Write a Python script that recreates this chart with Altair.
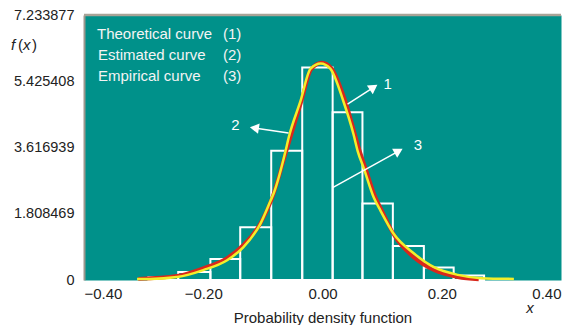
import altair as alt
import pandas as pd

# Histogram (empirical curve)
bin_left = [-0.292, -0.242, -0.188, -0.138, -0.086, -0.034, 0.017, 0.067, 0.118, 0.170, 0.220]
bin_right = [-0.242, -0.188, -0.138, -0.086, -0.034, 0.017, 0.067, 0.118, 0.170, 0.220, 0.271]
bar_height = [0.08, 0.22, 0.57, 1.44, 3.53, 5.80, 4.58, 2.09, 0.93, 0.34, 0.12]

# Estimated curve (yellow)
est_x = [-0.311, -0.289, -0.244, -0.200, -0.160, -0.133, -0.104, -0.087, -0.082, -0.062, -0.057,
         -0.037, -0.020, -0.003, 0.013, 0.035, 0.052, 0.059, 0.069, 0.086, 0.097, 0.119, 0.153,
         0.187, 0.227, 0.266, 0.321]
est_y = [0.03, 0.03, 0.08, 0.27, 0.54, 0.89, 1.54, 2.17, 2.36, 3.52, 3.87,
         4.88, 5.77, 5.91, 5.77, 4.88, 3.98, 3.52, 3.06, 2.25, 1.90, 1.27, 0.73,
         0.35, 0.14, 0.05, 0.03]

# Theoretical curve (red)
theo_x = [-0.309, -0.244, -0.200, -0.160, -0.133, -0.104, -0.086, -0.061, -0.036, -0.019, -0.001,
          0.015, 0.038, 0.062, 0.072, 0.089, 0.100, 0.121, 0.153, 0.187, 0.227, 0.262]
theo_y = [0.03, 0.11, 0.32, 0.60, 0.95, 1.55, 2.17, 3.50, 4.85, 5.75, 5.93,
          5.78, 4.90, 3.55, 3.06, 2.25, 1.88, 1.20, 0.62, 0.27, 0.08, 0.02]

# Arrow annotations
arrow_label = ["1", "2", "3"]
arrow_x0 = [0.042, -0.057, 0.017]
arrow_y0 = [4.80, 4.01, 2.52]
arrow_hx = [0.0857, -0.1143, 0.1277]
arrow_hy = [5.26, 4.15, 3.52]
arrow_angle = [56, 279, 61]
label_x = [0.1025, -0.139, 0.153]
label_y = [5.36, 4.23, 3.68]
label_align = ["left", "right", "left"]

legend_names = ["Theoretical curve", "Estimated curve", "Empirical curve"]
legend_nums = ["(1)", "(2)", "(3)"]

y_ticks = [0, 1.808469, 3.616939, 5.425408, 7.233877]
x_ticks = [-0.4, -0.2, 0.0, 0.2, 0.4]

FONT = "Liberation Sans"
TEAL = "#00918a"

xs = alt.Scale(domain=[-0.4, 0.4], nice=False, zero=False)
ys = alt.Scale(domain=[0, 7.233877], nice=False)

bars_df = pd.DataFrame({"x0": bin_left, "x1": bin_right, "h": bar_height})
est_df = pd.DataFrame({"x": est_x, "y": est_y})
theo_df = pd.DataFrame({"x": theo_x, "y": theo_y})
arr_df = pd.DataFrame({"lab": arrow_label, "x0": arrow_x0, "y0": arrow_y0, "hx": arrow_hx,
                       "hy": arrow_hy, "ang": arrow_angle, "lx": label_x, "ly": label_y,
                       "al": label_align})

x_axis = alt.Axis(values=x_ticks, format=".2f", ticks=False, domain=False, grid=False,
                  labelFont=FONT, labelFontSize=15, labelColor="#222", labelPadding=6,
                  title="Probability density function", titleFont=FONT, titleFontSize=15,
                  titleFontWeight="normal", titleColor="#222", titlePadding=9)
y_axis = alt.Axis(values=y_ticks, labelExpr="datum.value == 0 ? '0' : format(datum.value, '.6f')",
                  ticks=False, grid=False, domainColor="#9c978d", domainWidth=2,
                  labelFont=FONT, labelFontSize=14.5, labelColor="#222", labelPadding=10,
                  title=None)

bars = alt.Chart(bars_df).mark_bar(fill=TEAL, fillOpacity=0, stroke="white", strokeWidth=2).encode(
    x=alt.X("x0:Q", scale=xs, axis=x_axis),
    x2="x1:Q",
    y=alt.Y("h:Q", scale=ys, axis=y_axis),
    y2=alt.datum(0),
)

red = alt.Chart(theo_df).mark_line(color="#d8281c", strokeWidth=3.8, interpolate="monotone").encode(
    x=alt.X("x:Q", scale=xs), y=alt.Y("y:Q", scale=ys))
yellow = alt.Chart(est_df).mark_line(color="#f2ee2a", strokeWidth=2.5, interpolate="monotone").encode(
    x=alt.X("x:Q", scale=xs), y=alt.Y("y:Q", scale=ys))

arrow_lines = alt.Chart(arr_df).mark_rule(color="white", strokeWidth=1.5).encode(
    x=alt.X("x0:Q", scale=xs), y=alt.Y("y0:Q", scale=ys), x2="hx:Q", y2="hy:Q")
arrow_heads = alt.Chart(arr_df).mark_point(shape="triangle-up", filled=True, color="white",
                                           opacity=1, size=110).encode(
    x=alt.X("hx:Q", scale=xs), y=alt.Y("hy:Q", scale=ys),
    angle=alt.Angle("ang:Q", scale=None))
arrow_text_l = alt.Chart(arr_df[arr_df["al"] == "left"]).mark_text(
    align="left", baseline="middle", color="white", font=FONT, fontSize=15).encode(
    x=alt.X("lx:Q", scale=xs), y=alt.Y("ly:Q", scale=ys), text="lab:N")
arrow_text_r = alt.Chart(arr_df[arr_df["al"] == "right"]).mark_text(
    align="right", baseline="middle", color="white", font=FONT, fontSize=15).encode(
    x=alt.X("lx:Q", scale=xs), y=alt.Y("ly:Q", scale=ys), text="lab:N")

legend_layers = []
for i, (nm, nu) in enumerate(zip(legend_names, legend_nums)):
    ypix = 19 + 21 * i
    legend_layers.append(
        alt.Chart(pd.DataFrame({"t": [nm]})).mark_text(
            align="left", baseline="middle", color="#f4f4f4", font=FONT, fontSize=15).encode(
            x=alt.value(13 if i == 0 else 14), y=alt.value(ypix), text="t:N"))
    legend_layers.append(
        alt.Chart(pd.DataFrame({"t": [nu]})).mark_text(
            align="left", baseline="middle", color="#f4f4f4", font=FONT, fontSize=15).encode(
            x=alt.value(139), y=alt.value(ypix), text="t:N"))

top_df = pd.DataFrame({"x0": [-0.4], "x1": [0.4], "y": [7.233877]})
top_line = alt.Chart(top_df).mark_rule(color="#a8a397", strokeWidth=2.5).encode(
    x=alt.X("x0:Q", scale=xs), x2="x1:Q", y=alt.Y("y:Q", scale=ys))

fx_parts = ["f", "(", "x", ")"]
fx_pos = [-73, -66, -61, -52]
fx_style = ["italic", "normal", "italic", "normal"]
fx_layers = []
for t, p, s in zip(fx_parts, fx_pos, fx_style):
    fx_layers.append(
        alt.Chart(pd.DataFrame({"t": [t]})).mark_text(
            align="left", baseline="middle", fontStyle=s, font=FONT, fontSize=15, color="#222").encode(
            x=alt.value(p), y=alt.value(30), text="t:N"))

x_label = alt.Chart(pd.DataFrame({"t": ["x"]})).mark_text(
    align="center", baseline="middle", fontStyle="italic", font=FONT, fontSize=15, color="#222").encode(
    x=alt.value(446), y=alt.value(293), text="t:N")

chart = alt.layer(
    bars, red, yellow, arrow_lines, arrow_heads, arrow_text_l, arrow_text_r,
    top_line, x_label, *legend_layers, *fx_layers
).properties(
    width=477, height=265,
    autosize=alt.AutoSizeParams(type="none"),
    padding={"left": 76, "top": 7, "right": 4, "bottom": 45},
).configure_view(fill=TEAL, stroke="transparent")

chart.save("out.html", embed_options={"renderer": "svg", "actions": False})
